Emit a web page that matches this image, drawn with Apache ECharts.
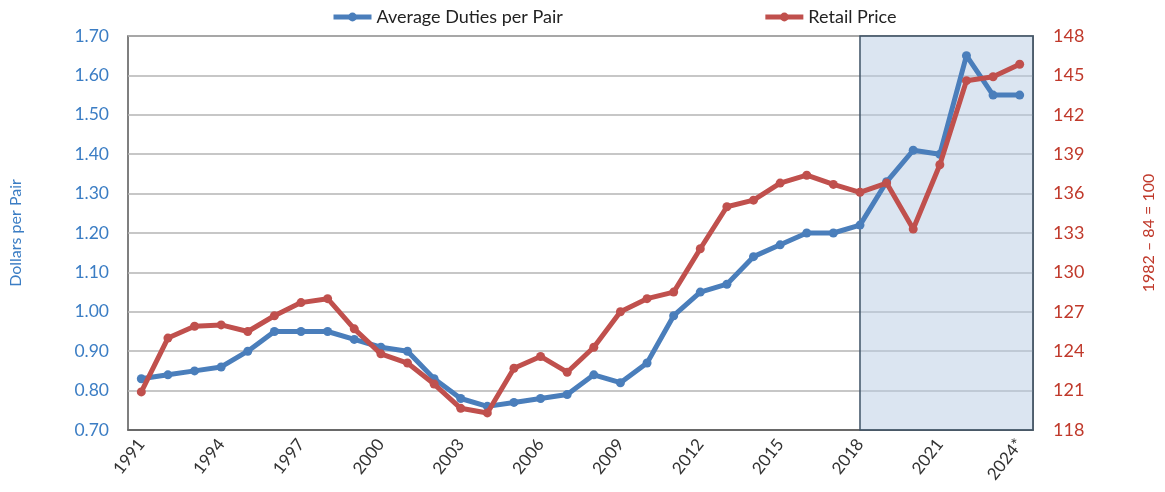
<!DOCTYPE html>
<html>
<head>
<meta charset="utf-8">
<script src="https://cdn.jsdelivr.net/npm/echarts@6/dist/echarts.min.js"></script>
<style>html,body{margin:0;padding:0;background:#fff}#c{width:1165px;height:492px}</style>
</head>
<body>
<div id="c"></div>
<script>
const years = ['1991','1992','1993','1994','1995','1996','1997','1998','1999','2000','2001','2002','2003','2004','2005','2006','2007','2008','2009','2010','2011','2012','2013','2014','2015','2016','2017','2018','2019','2020','2021','2022','2023','2024*'];
const duties = [0.83,0.84,0.85,0.86,0.90,0.95,0.95,0.95,0.93,0.91,0.90,0.83,0.78,0.76,0.77,0.78,0.79,0.84,0.82,0.87,0.99,1.05,1.07,1.14,1.17,1.20,1.20,1.22,1.33,1.41,1.40,1.65,1.55,1.55];
const retail = [120.9,125.0,125.9,126.0,125.5,126.7,127.7,128.0,125.7,123.8,123.1,121.5,119.65,119.3,122.7,123.6,122.4,124.3,127.0,128.0,128.5,131.8,135.0,135.5,136.8,137.4,136.7,136.1,136.8,133.3,138.2,144.6,144.9,145.85];
const leftTicks = {min:0.70, max:1.70, interval:0.10};
const rightTicks = {min:118, max:148, interval:3};
const shadeStart = '2018';

const blue = '#4a7ebb', red = '#c0504d';
const font = 'Lato';
const chart = echarts.init(document.getElementById('c'));
chart.setOption({
  animation:false,
  textStyle:{fontFamily:font},
  legend:{
    top:3, left:326, itemGap:200, itemWidth:38, itemHeight:11,
    lineStyle:{width:5},
    textStyle:{fontSize:18, color:'#222', fontFamily:font},
    data:['Average Duties per Pair','Retail Price']
  },
  grid:{left:128, right:129, top:36, bottom:62, show:true, borderColor:'#555', borderWidth:1.5, backgroundColor:'transparent'},
  xAxis:{
    type:'category', data:years, boundaryGap:true,
    axisLine:{lineStyle:{color:'#555', width:1.5}},
    axisTick:{show:false},
    axisLabel:{interval:2, rotate:52, fontSize:17, color:'#333', margin:11, fontFamily:font}
  },
  yAxis:[{
    type:'value', min:leftTicks.min, max:leftTicks.max, interval:leftTicks.interval,
    name:'Dollars per Pair', nameLocation:'middle', nameRotate:90, nameGap:104,
    nameTextStyle:{color:'#3b7dc4', fontSize:16, fontFamily:font},
    axisLabel:{formatter:v=>v.toFixed(2), color:'#3b7dc4', fontSize:17.5, margin:19, fontFamily:font},
    axisLine:{show:false}, axisTick:{show:false},
    splitLine:{lineStyle:{color:'#b5b5b5', width:1.5}}
  },{
    type:'value', min:rightTicks.min, max:rightTicks.max, interval:rightTicks.interval,
    position:'right',
    name:'1982 \u2013 84 = 100', nameLocation:'middle', nameRotate:90, nameGap:108,
    nameTextStyle:{color:'#c0392b', fontSize:16, fontFamily:font},
    axisLabel:{color:'#c0392b', fontSize:18, margin:20, fontFamily:font},
    axisLine:{show:false}, axisTick:{show:false},
    splitLine:{show:false}
  }],
  series:[{
    name:'Average Duties per Pair', type:'line', data:duties, yAxisIndex:0,
    symbol:'circle', symbolSize:9, lineStyle:{width:5, color:blue}, itemStyle:{color:blue},
    z:3,
    markArea:{
      silent:true,
      itemStyle:{color:'rgba(184,204,228,0.5)', borderColor:'#3f5366', borderWidth:1.5},
      data:[[{xAxis:shadeStart},{xAxis:Infinity}]]
    }
  },{
    name:'Retail Price', type:'line', data:retail, yAxisIndex:1,
    symbol:'circle', symbolSize:9, lineStyle:{width:5, color:red}, itemStyle:{color:red},
    z:4
  }]
});
</script>
</body>
</html>
